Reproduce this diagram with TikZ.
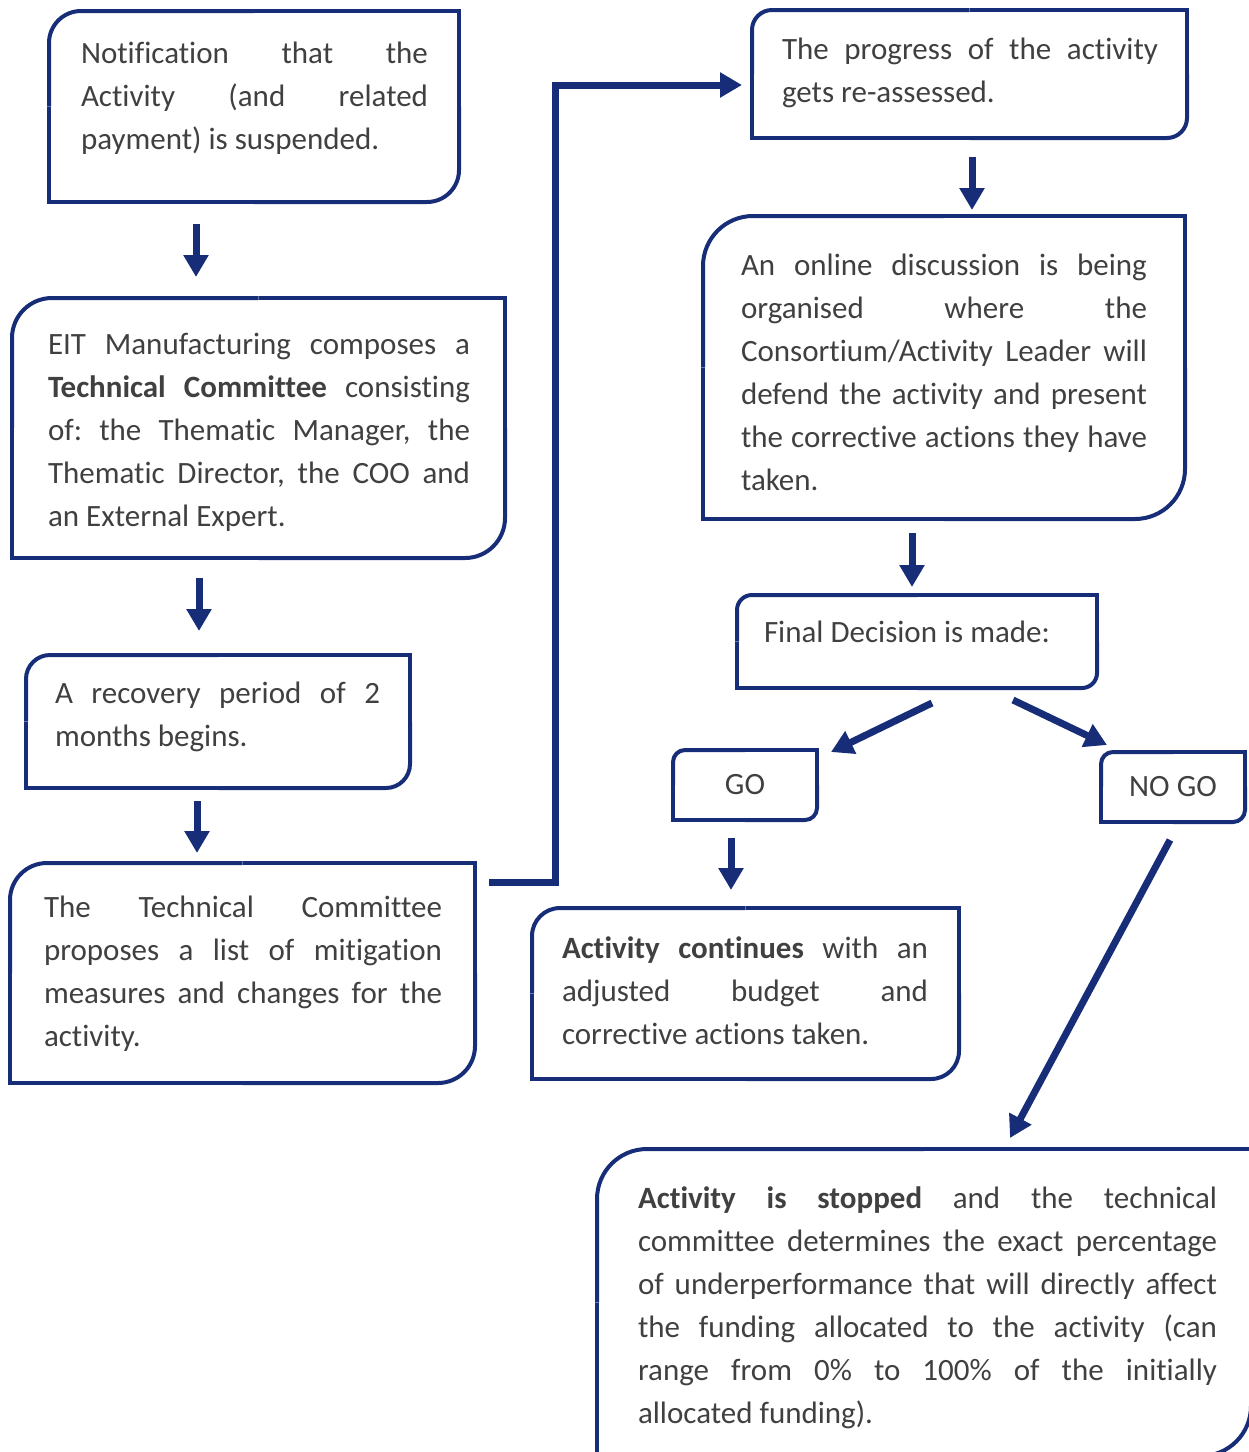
\documentclass[tikz,border=0pt]{standalone}
\usepackage{fontspec}
\setmainfont{Carlito}[Ligatures=NoCommon]
\usetikzlibrary{arrows.meta}
\definecolor{eitblue}{RGB}{23,45,120}
\definecolor{txtgray}{RGB}{64,64,64}
\frenchspacing
\newcommand{\roundbox}[2]{%
  \draw[boxline,rounded corners=#2] (#1.west) |- (#1.north);
  \draw[boxline] (#1.north) -| (#1.east);
  \draw[boxline,rounded corners=#2] (#1.east) |- (#1.south);
  \draw[boxline] (#1.south) -| (#1.west);
}
\begin{document}
\begin{tikzpicture}[x=1pt,y=-1pt,
	box/.style={rectangle,inner sep=0pt,outer sep=0pt,anchor=north west},
	boxline/.style={draw=eitblue,line width=4pt},
	txt/.style={inner sep=0pt,outer sep=0pt,anchor=north west,align=justify,text=txtgray,
		font=\fontsize{31}{43}\selectfont,execute at begin node=\strut},
	arr/.style={draw=eitblue,line width=7pt,-{Triangle[length=22pt,width=24pt]}}]
	\useasboundingbox (0,0) rectangle (1249,1452);
	\clip (0,0) rectangle (1249,1452);
	\node[box,minimum width=410pt,minimum height=191pt] (notif) at (49,11) {};
	\node[box,minimum width=493pt,minimum height=260pt] (eit) at (12,298) {};
	\node[box,minimum width=384pt,minimum height=133pt] (recov) at (26,655) {};
	\node[box,minimum width=465pt,minimum height=220pt] (tc) at (10,863) {};
	\node[box,minimum width=435pt,minimum height=128pt] (prog) at (752,10) {};
	\node[box,minimum width=482pt,minimum height=303pt] (online) at (703,216) {};
	\node[box,minimum width=360pt,minimum height=93pt] (final) at (737,595) {};
	\node[box,minimum width=144pt,minimum height=70pt,text=txtgray,font=\fontsize{31}{43}\selectfont] (go) at (673,750) {GO};
	\node[box,minimum width=144pt,minimum height=70pt,text=txtgray,font=\fontsize{31}{43}\selectfont] (nogo) at (1101,752) {NO GO};
	\node[box,minimum width=427pt,minimum height=171pt] (cont) at (532,908) {};
	\node[box,minimum width=654pt,minimum height=307pt] (stop) at (597,1149) {};
	\roundbox{notif}{32pt}
	\roundbox{eit}{40pt}
	\roundbox{recov}{24pt}
	\roundbox{tc}{37pt}
	\roundbox{prog}{20pt}
	\roundbox{online}{50pt}
	\roundbox{final}{15pt}
	\roundbox{go}{12pt}
	\roundbox{nogo}{12pt}
	\roundbox{cont}{28pt}
	\roundbox{stop}{50pt}
	\node[txt,text width=347pt] (notiftxt) at (81,33) {Notification that the\linebreak Activity (and related\linebreak payment) is suspended.};
	\node[txt,text width=422pt] (eittxt) at (48,324) {EIT Manufacturing composes a\linebreak \textbf{Technical Committee} consisting\linebreak of: the Thematic Manager, the\linebreak Thematic Director, the COO and\linebreak an External Expert.};
	\node[txt,text width=325pt] (recovtxt) at (55,673) {A recovery period of 2\linebreak months begins.};
	\node[txt,text width=398pt] (tctxt) at (44,887) {The Technical Committee\linebreak proposes a list of mitigation\linebreak measures and changes for the\linebreak activity.};
	\node[txt,text width=376pt] (progtxt) at (782,29) {The progress of the activity\linebreak gets re-assessed.};
	\node[txt,text width=406pt] (onlinetxt) at (741,245) {An online discussion is being\linebreak organised where the\linebreak Consortium/Activity Leader will\linebreak defend the activity and present\linebreak the corrective actions they have\linebreak taken.};
	\node[txt,align=left] (finaltxt) at (764,612) {Final Decision is made:};
	\node[txt,text width=366pt] (conttxt) at (562,928) {\textbf{Activity continues} with an\linebreak adjusted budget and\linebreak corrective actions taken.};
	\node[txt,text width=579pt] (stoptxt) at (638,1178) {\textbf{Activity is stopped} and the technical\linebreak committee determines the exact percentage\linebreak of underperformance that will directly affect\linebreak the funding allocated to the activity (can\linebreak range from 0\% to 100\% of the initially\linebreak allocated funding).};
	\coordinate (a1) at ([xshift=-58pt]notif.south);
	\coordinate (a2) at ([xshift=-59.5pt]eit.south);
	\coordinate (a3) at ([xshift=-21pt]recov.south);
	\coordinate (a4) at ([xshift=2.5pt]prog.south);
	\coordinate (a5) at ([xshift=-32pt]online.south);
	\coordinate (a6) at ([xshift=-14pt]go.south);
	\draw[arr,shorten <=22pt,shorten >=21pt] (a1) -- (a1 |- eit.north);
	\draw[arr,shorten <=20pt,shorten >=24pt] (a2) -- (a2 |- recov.north);
	\draw[arr,shorten <=13pt,shorten >=10pt] (a3) -- (a3 |- tc.north);
	\draw[arr,shorten <=19pt,shorten >=6pt] (a4) -- (a4 |- online.north);
	\draw[arr,shorten <=14pt,shorten >=8pt] (a5) -- (a5 |- final.north);
	\draw[arr,shorten <=18pt,shorten >=18pt] (a6) -- (a6 |- cont.north);
	\draw[arr] ([xshift=14pt,yshift=-19pt]tc.north east) -- ++(66,0) |- ([xshift=-10pt,yshift=-11pt]prog.west);
	\draw[arr] ([xshift=15pt,yshift=-15pt]final.south) -- ([xshift=14pt,yshift=-2pt]go.north east);
	\draw[arr] ([xshift=96pt,yshift=-12pt]final.south) -- ([xshift=6pt,yshift=7pt]nogo.north west);
	\draw[arr] ([xshift=-3pt,yshift=-18pt]nogo.south) -- ([xshift=413pt,yshift=11pt]stop.north west);
\end{tikzpicture}
\end{document}
